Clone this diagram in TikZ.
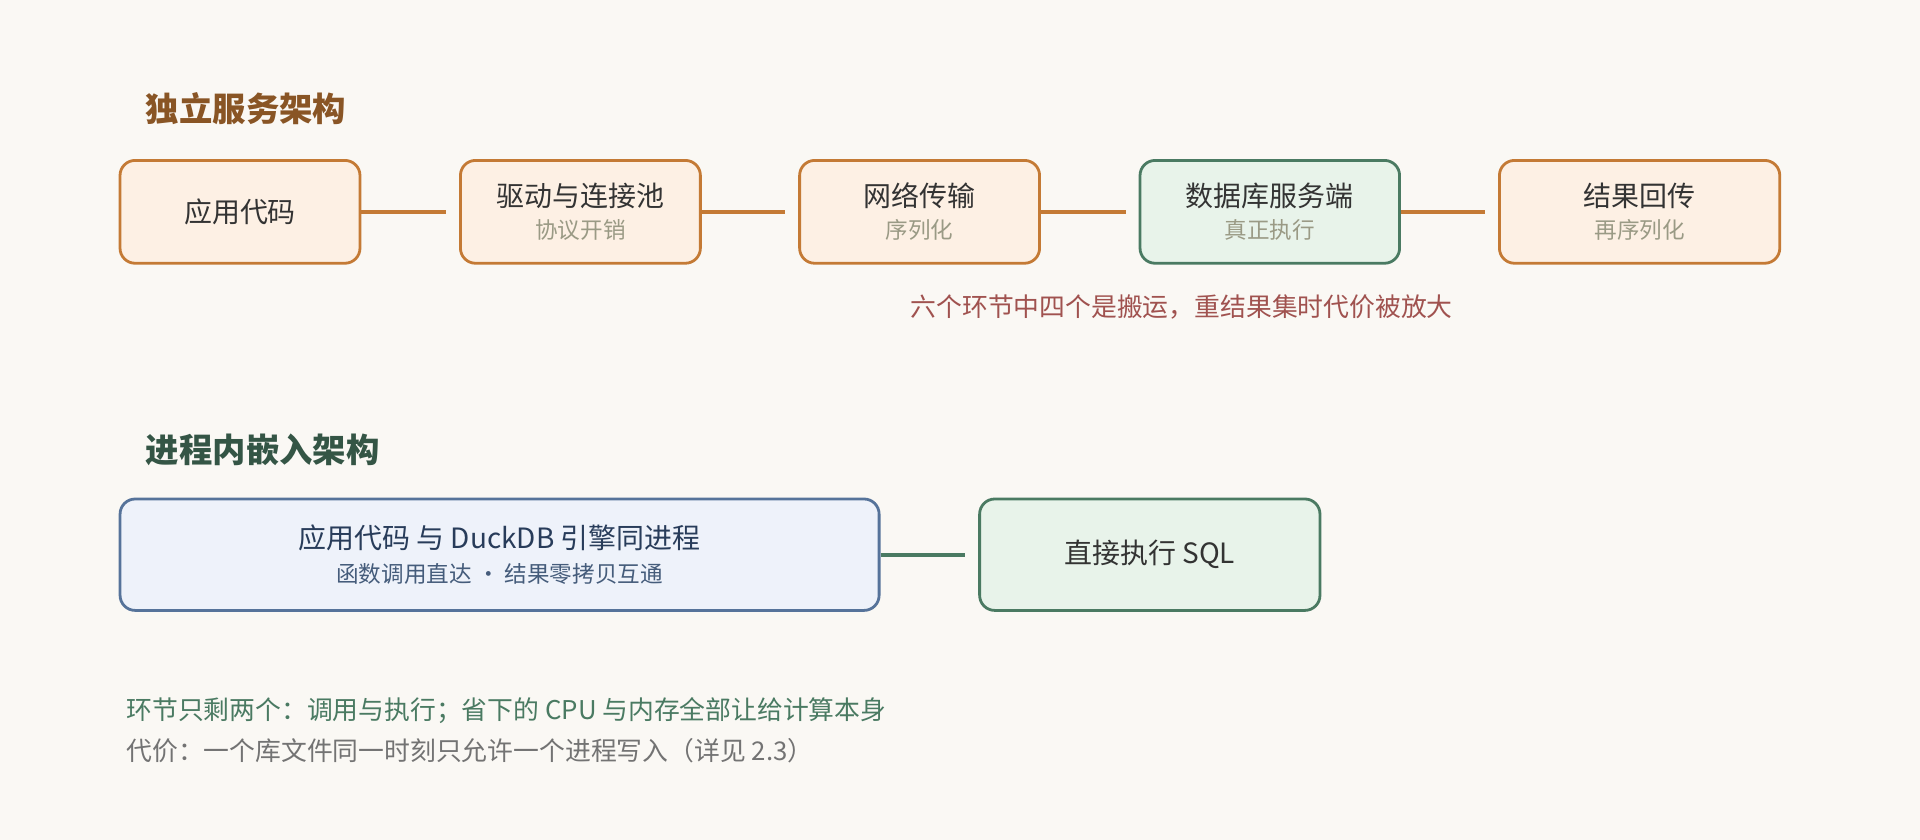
\documentclass[tikz,border=0pt]{standalone}
\usepackage{fontspec}
\setmainfont{Noto Sans CJK SC}
\usetikzlibrary{positioning}
\definecolor{bgc}{HTML}{FAF8F4}
\definecolor{orgline}{HTML}{C47A35}
\definecolor{orgfill}{HTML}{FDF0E4}
\definecolor{grnline}{HTML}{4A7A62}
\definecolor{grnfill}{HTML}{E8F3EA}
\definecolor{bluline}{HTML}{56739A}
\definecolor{blufill}{HTML}{EEF2FA}
\definecolor{subgray}{HTML}{9A9A85}
\definecolor{notered}{HTML}{A0524F}
\newcommand{\subline}[1]{{\fontsize{10.5}{13}\selectfont\color{subgray}#1}}
\begin{document}
\begin{tikzpicture}[x=0.02cm,y=-0.02cm,
		stepbox/.style={rectangle,rounded corners=7pt,draw=orgline,fill=orgfill,line width=1.3pt,minimum height=1.68cm,align=center,font=\fontsize{13}{17}\selectfont,text=black!80},
		runbox/.style={stepbox,draw=grnline,fill=grnfill},
		link/.style={line width=1.8pt,draw=orgline,shorten >=6pt},
		heading/.style={anchor=west,font=\bfseries\fontsize{15.5}{18}\selectfont}
		]
		\fill[bgc] (0,0) rectangle (1568,686);
		% independent service
		\node[heading,text=orgline!70!black](T1) at (113,89){独立服务架构};
		\node[stepbox,minimum width=3.92cm](S0) at (196,173){应用代码};
		\node[stepbox,minimum width=3.92cm](S1) at (474,173){驱动与连接池\\[-2pt]\subline{协议开销}};
		\node[stepbox,minimum width=3.92cm](S2) at (751,173){网络传输\\[-2pt]\subline{序列化}};
		\node[runbox,minimum width=4.24cm](S3) at (1037,173){数据库服务端\\[-2pt]\subline{真正执行}};
		\node[stepbox,minimum width=4.58cm](S4) at (1339,173){结果回传\\[-2pt]\subline{再序列化}};
		\draw[link] (S0) -- (S1);
		\draw[link] (S1) -- (S2);
		\draw[link] (S2) -- (S3);
		\draw[link] (S3) -- (S4);
		\node[font=\fontsize{12}{14}\selectfont,text=notered](N1) at (965,251){六个环节中四个是搬运，重结果集时代价被放大};
		% embedded
		\node[heading,text=grnline!70!black](T2) at (113,367){进程内嵌入架构};
		\node[stepbox,draw=bluline,fill=blufill,minimum width=12.4cm,minimum height=1.82cm,text={rgb,255:red,40;green,60;blue,90}](E0) at (408,453){应用代码 与 DuckDB 引擎同进程\\[-1pt]{\fontsize{10.5}{13}\selectfont\color{bluline!80!black} 函数调用直达 · 结果零拷贝互通}};
		\node[runbox,minimum width=5.56cm,minimum height=1.82cm](E1) at (939,453){直接执行 SQL};
		\draw[link,draw=grnline] (E0) -- (E1);
		\node[anchor=west,font=\fontsize{12}{14}\selectfont,text=grnline](L1) at (97,580){环节只剩两个：调用与执行；省下的 CPU 与内存全部让给计算本身};
		\node[anchor=west,font=\fontsize{12}{14}\selectfont,text=black!55](L2) at (97,613){代价：一个库文件同一时刻只允许一个进程写入（详见 2.3）};
	\end{tikzpicture}
\end{document}
